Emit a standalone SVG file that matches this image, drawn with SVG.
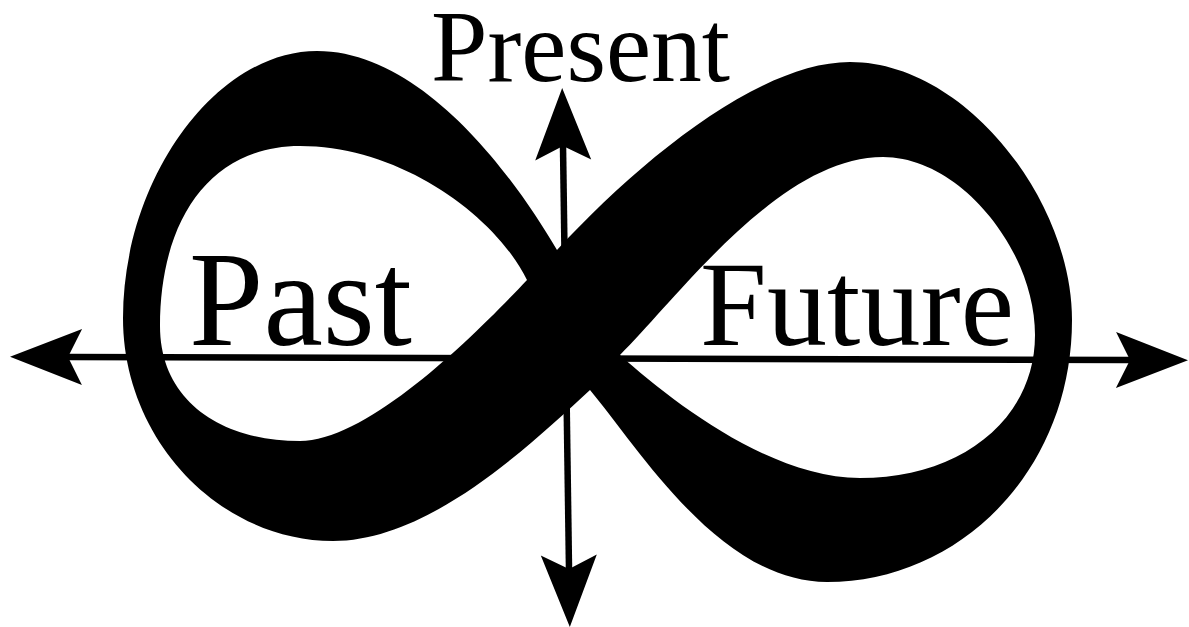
<svg xmlns="http://www.w3.org/2000/svg" width="1189" height="627" viewBox="0 0 1189 627">
  <style>
    .lbl { font-family: "Liberation Serif", "Times New Roman", serif; fill: #000; }
    .axis { stroke: #000; stroke-width: 6.5; fill: none; }
  </style>
  <defs>
    <marker id="ah" markerUnits="userSpaceOnUse" viewBox="-16 -30 76 60" markerWidth="76" markerHeight="60" refX="0" refY="0" orient="auto-start-reverse">
      <path d="M58,0 L-14,-28 L0,0 L-14,28 Z" fill="#000"/>
    </marker>
  </defs>
  <rect x="0" y="0" width="1189" height="627" fill="#fff"/>
  <g id="infinity">
    <path fill="#000" fill-rule="evenodd" d="
      M557,250 C510,170 420,51 317,51
      C215,51 123,180 123,318
      C123,440 220,541 333,541
      C430,541 530,445 590,390
      C640,450 720,582 827,582
      C960,582 1072,470 1072,320
      C1072,200 965,62 850,62
      C760,62 640,160 557,250 Z
      M527,280 C495,215 400,146 300,146
      C210,146 160,220 160,326
      C160,400 220,441 300,441
      C370,441 480,330 527,280 Z
      M620,355 C680,295 780,157 883,157
      C960,157 1035,250 1035,335
      C1035,420 960,478 860,478
      C770,478 670,400 620,355 Z"/>
  </g>
  <g id="connectors">
    <line class="axis" x1="68" y1="357" x2="1130" y2="360" marker-start="url(#ah)" marker-end="url(#ah)"/>
    <line class="axis" x1="563" y1="146" x2="569" y2="569" marker-start="url(#ah)" marker-end="url(#ah)"/>
  </g>
  <g id="label-present">
    <text class="lbl" x="431" y="81" font-size="101" textLength="299" lengthAdjust="spacingAndGlyphs">Present</text>
  </g>
  <g id="label-past">
    <text class="lbl" x="189" y="345" font-size="135" textLength="223" lengthAdjust="spacingAndGlyphs">Past</text>
  </g>
  <g id="label-future">
    <text class="lbl" x="700" y="345" font-size="120" textLength="314" lengthAdjust="spacing">Future</text>
  </g>
</svg>
